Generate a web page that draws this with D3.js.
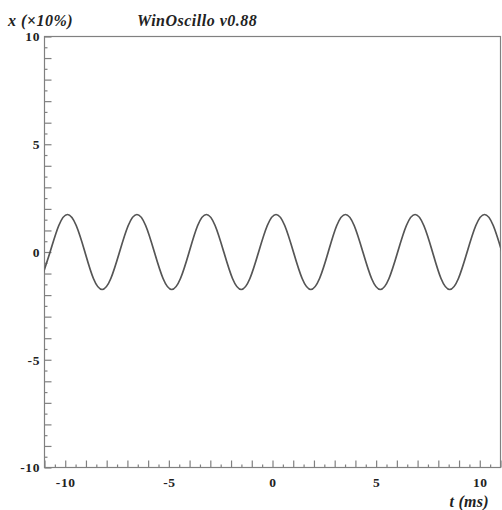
<!DOCTYPE html>
<html>
<head>
<meta charset="utf-8">
<script src="https://cdn.jsdelivr.net/npm/d3@7"></script>
<style>
  html, body { margin: 0; padding: 0; background: #fff; }
  svg { display: block; }
  .lbl { font-family: "Liberation Serif", "Times New Roman", serif; font-weight: bold; fill: #222; }
</style>
</head>
<body>
<svg id="chart" width="502" height="510"></svg>
<script>
// Oscillation trace: time in ms and displacement in units of 10 %
const timeMs = [
  -11.15, -10.73, -10.31, -9.89, -9.47, -9.05, -8.64, -8.22, -7.80, -7.38,
  -6.96, -6.54, -6.12, -5.70, -5.28, -4.86, -4.44, -4.02, -3.61, -3.19,
  -2.77, -2.35, -1.93, -1.51, -1.09, -0.67, -0.25, 0.17, 0.59, 1.01,
  1.43, 1.85, 2.27, 2.69, 3.10, 3.52, 3.94, 4.36, 4.78, 5.20,
  5.62, 6.04, 6.46, 6.88, 7.30, 7.72, 8.13, 8.55, 8.97, 9.39,
  9.81, 10.23, 10.65, 11.07
];
const displacement = [
  -1.23, 0, 1.23, 1.74, 1.23, 0, -1.23, -1.74, -1.23, 0,
  1.23, 1.74, 1.23, 0, -1.23, -1.74, -1.23, 0, 1.23, 1.74,
  1.23, 0, -1.23, -1.74, -1.23, 0, 1.23, 1.74, 1.23, 0,
  -1.23, -1.74, -1.23, 0, 1.23, 1.74, 1.23, 0, -1.23, -1.74,
  -1.23, 0, 1.23, 1.74, 1.23, 0, -1.23, -1.74, -1.23, 0,
  1.23, 1.74, 1.23, 0
];

const xDomain = [-11, 11];
const yDomain = [-10, 10];
const xLabelTicks = [-10, -5, 0, 5, 10];
const yLabelTicks = [-10, -5, 0, 5, 10];
const yAxisTitle = "x (×10%)";
const xAxisTitle = "t (ms)";
const chartTitle = "WinOscillo v0.88";

const svg = d3.select("#chart");
const plotLeft = 44.5, plotRight = 500.5, plotTop = 36.5, plotBottom = 467.5;

const x = d3.scaleLinear().domain(xDomain).range([plotLeft, plotRight]);
const y = d3.scaleLinear().domain(yDomain).range([plotBottom, plotTop]);

const frameColor = "#808080";
// plain hyphen for negative numbers
const fmt = d => String(d);

// integer ticks (long) and half-step ticks (short)
const xMajor = d3.range(xDomain[0], xDomain[1] + 1, 1);
const xMinor = d3.range(xDomain[0] + 0.5, xDomain[1], 1);
const yMajor = d3.range(yDomain[0], yDomain[1] + 1, 1);
const yMinor = d3.range(yDomain[0] + 0.5, yDomain[1], 1);

function styleAxis(g) {
  g.select(".domain").remove();
  g.selectAll(".tick line").attr("stroke", frameColor).attr("stroke-width", 1.2);
  g.selectAll(".tick text").attr("class", "lbl")
    .attr("font-size", 13.5).attr("letter-spacing", 0.6).attr("fill", "#222");
}

// bottom axis
svg.append("g")
  .attr("transform", `translate(0,${plotBottom})`)
  .call(d3.axisBottom(x).tickValues(xMinor).tickSizeInner(-3).tickSizeOuter(0).tickFormat(""))
  .call(styleAxis);
svg.append("g")
  .attr("transform", `translate(0,${plotBottom})`)
  .call(d3.axisBottom(x).tickValues(xMajor).tickSizeInner(-7).tickSizeOuter(0).tickPadding(10)
    .tickFormat(d => xLabelTicks.includes(d) ? fmt(d) : ""))
  .call(styleAxis);

// left axis
svg.append("g")
  .attr("transform", `translate(${plotLeft},0)`)
  .call(d3.axisLeft(y).tickValues(yMinor).tickSizeInner(-3).tickSizeOuter(0).tickFormat(""))
  .call(styleAxis);
svg.append("g")
  .attr("transform", `translate(${plotLeft},0)`)
  .call(d3.axisLeft(y).tickValues(yMajor).tickSizeInner(-7).tickSizeOuter(0).tickPadding(4.5)
    .tickFormat(d => yLabelTicks.includes(d) ? fmt(d) : ""))
  .call(styleAxis);

// frame
svg.append("rect")
  .attr("x", plotLeft).attr("y", plotTop)
  .attr("width", plotRight - plotLeft).attr("height", plotBottom - plotTop)
  .attr("fill", "none").attr("stroke", frameColor).attr("stroke-width", 1.2);

// trace, clipped to the frame
svg.append("clipPath").attr("id", "plotClip")
  .append("rect").attr("x", plotLeft).attr("y", plotTop)
  .attr("width", plotRight - plotLeft).attr("height", plotBottom - plotTop);

const points = timeMs.map((t, i) => [t, displacement[i]]);
const line = d3.line()
  .x(d => x(d[0]))
  .y(d => y(d[1]))
  .curve(d3.curveNatural);

svg.append("path")
  .datum(points)
  .attr("clip-path", "url(#plotClip)")
  .attr("d", line)
  .attr("fill", "none")
  .attr("stroke", "#555")
  .attr("stroke-width", 1.7);

// titles
svg.append("text").attr("class", "lbl")
  .attr("x", 8).attr("y", 26)
  .attr("font-size", 16).attr("letter-spacing", 0.5).attr("font-style", "italic")
  .text(yAxisTitle);
svg.append("text").attr("class", "lbl")
  .attr("x", 137).attr("y", 26)
  .attr("font-size", 16).attr("letter-spacing", 0.5).attr("font-style", "italic")
  .text(chartTitle);
svg.append("text").attr("class", "lbl")
  .attr("x", 489).attr("y", 507)
  .attr("text-anchor", "end")
  .attr("font-size", 16).attr("letter-spacing", 0.3).attr("font-style", "italic")
  .text(xAxisTitle);
</script>
</body>
</html>
